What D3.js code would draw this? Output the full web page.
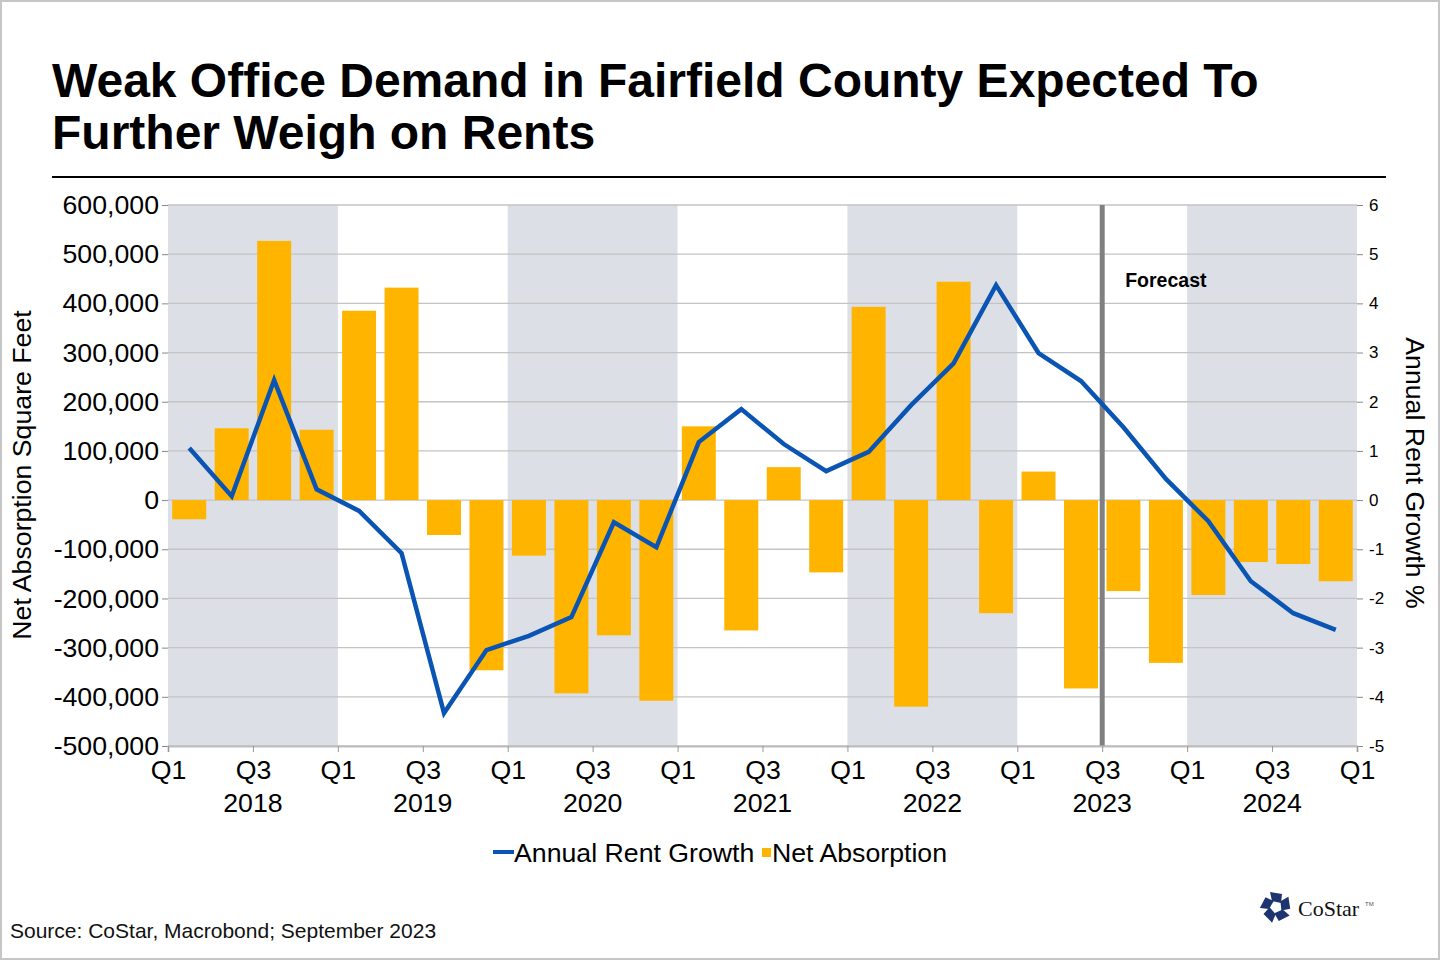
<!DOCTYPE html>
<html>
<head>
<meta charset="utf-8">
<script src="https://cdn.jsdelivr.net/npm/d3@7"></script>
<style>
  body { margin: 0; background: #fff; }
  svg { display: block; font-family: "Liberation Sans", Arial, sans-serif; }
</style>
</head>
<body>
<script>
// quarters Q1 2018 .. Q4 2024
var quarters = ["2018Q1","2018Q2","2018Q3","2018Q4","2019Q1","2019Q2","2019Q3","2019Q4",
  "2020Q1","2020Q2","2020Q3","2020Q4","2021Q1","2021Q2","2021Q3","2021Q4",
  "2022Q1","2022Q2","2022Q3","2022Q4","2023Q1","2023Q2","2023Q3","2023Q4",
  "2024Q1","2024Q2","2024Q3","2024Q4"];
var netAbsorption = [-39000, 146000, 527000, 143000, 385000, 432000, -71000, -346000,
  -113000, -393000, -275000, -408000, 150000, -265000, 67000, -147000,
  393000, -420000, 444000, -230000, 58000, -383000, -185000, -331000,
  -193000, -126000, -130000, -165000];
var rentGrowth = [1.06, 0.08, 2.44, 0.22, -0.22, -1.08, -4.33, -3.05,
  -2.76, -2.38, -0.45, -0.96, 1.18, 1.85, 1.14, 0.59,
  0.98, 1.93, 2.78, 4.37, 2.99, 2.42, 1.48, 0.43,
  -0.43, -1.65, -2.30, -2.64];
var years = ["2018","2019","2020","2021","2022","2023","2024"];
var shadedYears = ["2018","2020","2022","2024"];
var leftTicks = [600000, 500000, 400000, 300000, 200000, 100000, 0, -100000, -200000, -300000, -400000, -500000];
var rightTicks = [6, 5, 4, 3, 2, 1, 0, -1, -2, -3, -4, -5];
var forecastStart = "2023Q3";

var W = 1440, H = 960;
var pL = 168, pR = 1357, pT = 205, pB = 746;
var fs = 26.7;
var font = "\"Liberation Sans\", Arial, sans-serif";

var svg = d3.select("body").append("svg").attr("width", W).attr("height", H);

// outer frame
svg.append("rect").attr("x", 1).attr("y", 1).attr("width", W - 2).attr("height", H - 2)
  .attr("fill", "#fff").attr("stroke", "#c6c6c6").attr("stroke-width", 2);

// title
var title = svg.append("text").attr("font-size", 48).attr("font-weight", "bold").attr("fill", "#000");
title.append("tspan").attr("x", 52).attr("y", 97).text("Weak Office Demand in Fairfield County Expected To");
title.append("tspan").attr("x", 52).attr("y", 149).text("Further Weigh on Rents");
svg.append("line").attr("x1", 52).attr("x2", 1386).attr("y1", 177).attr("y2", 177)
  .attr("stroke", "#000").attr("stroke-width", 2);

// scales
var xBand = d3.scaleBand().domain(quarters).range([pL, pR]).paddingInner(0.2).paddingOuter(0.1);
var xq = d3.scaleLinear().domain([0, quarters.length]).range([pL, pR]);
var yL = d3.scaleLinear().domain([-500000, 600000]).range([pB, pT]);
var yR = d3.scaleLinear().domain([-5, 6]).range([pB, pT]);

// shaded years
svg.selectAll("rect.shade").data(shadedYears).enter().append("rect")
  .attr("class", "shade")
  .attr("x", function(d) { return xq(years.indexOf(d) * 4); })
  .attr("y", pT)
  .attr("width", xq(4) - xq(0))
  .attr("height", pB - pT)
  .attr("fill", "#dcdfe6");

// gridlines
svg.selectAll("line.grid").data(leftTicks).enter().append("line")
  .attr("class", "grid")
  .attr("x1", pL).attr("x2", pR)
  .attr("y1", function(d) { return yL(d); }).attr("y2", function(d) { return yL(d); })
  .attr("stroke", "#c4c4c4").attr("stroke-width", 1.3);

// bars
svg.selectAll("rect.bar").data(netAbsorption).enter().append("rect")
  .attr("class", "bar")
  .attr("x", function(d, i) { return xBand(quarters[i]); })
  .attr("y", function(d) { return yL(Math.max(0, d)); })
  .attr("width", xBand.bandwidth())
  .attr("height", function(d) { return Math.abs(yL(d) - yL(0)); })
  .attr("fill", "#ffb500");

// forecast divider
var fx = xq(quarters.indexOf(forecastStart));
svg.append("line").attr("x1", fx).attr("x2", fx).attr("y1", pT).attr("y2", pB)
  .attr("stroke", "#808080").attr("stroke-width", 5);
svg.append("text").attr("x", fx + 23).attr("y", 287).attr("font-size", 19.5).attr("font-weight", "bold")
  .text("Forecast");

// rent growth line
var line = d3.line()
  .x(function(d, i) { return xBand(quarters[i]) + xBand.bandwidth() / 2; })
  .y(function(d) { return yR(d); });
svg.append("path").datum(rentGrowth).attr("d", line)
  .attr("fill", "none").attr("stroke", "#0a55b3").attr("stroke-width", 4.5);

// left axis
var fmt = function(d) { return (d < 0 ? "-" : "") + d3.format(",")(Math.abs(d)); };
var gl = svg.append("g").attr("transform", "translate(" + pL + ",0)")
  .call(d3.axisLeft(yL).tickValues(leftTicks).tickFormat(fmt).tickSize(6).tickPadding(3));
gl.select(".domain").remove();
gl.selectAll("line").attr("stroke", "#888");
gl.selectAll("text").attr("font-size", fs).attr("fill", "#000").attr("font-family", font);

// right axis
var gr = svg.append("g").attr("transform", "translate(" + pR + ",0)")
  .call(d3.axisRight(yR).tickValues(rightTicks)
    .tickFormat(function(d) { return (d < 0 ? "-" : "") + Math.abs(d); })
    .tickSize(6).tickPadding(6));
gr.select(".domain").remove();
gr.selectAll("line").attr("stroke", "#888");
gr.selectAll("text").attr("font-size", 17).attr("fill", "#000").attr("font-family", font);

// bottom axis
var tickIdx = d3.range(0, quarters.length + 1, 2);
var gb = svg.append("g").attr("transform", "translate(0," + pB + ")")
  .call(d3.axisBottom(xq).tickValues(tickIdx)
    .tickFormat(function(d) { return (d % 4 === 0) ? "Q1" : "Q3"; })
    .tickSize(6).tickPadding(8));
gb.select(".domain").attr("stroke", "#bdbdbd").attr("stroke-width", 2);
gb.selectAll("line").attr("stroke", "#999");
gb.selectAll("text").attr("font-size", fs).attr("fill", "#000").attr("font-family", font);

svg.selectAll("text.year").data(years).enter().append("text")
  .attr("class", "year")
  .attr("x", function(d, i) { return xq(i * 4 + 2); })
  .attr("y", 812).attr("text-anchor", "middle").attr("font-size", fs)
  .text(function(d) { return d; });

// axis titles
svg.append("text").attr("transform", "translate(31,475) rotate(-90)")
  .attr("text-anchor", "middle").attr("font-size", fs).text("Net Absorption Square Feet");
svg.append("text").attr("transform", "translate(1406,473) rotate(90)")
  .attr("text-anchor", "middle").attr("font-size", fs).text("Annual Rent Growth %");

// legend
var lg = svg.append("g");
lg.append("rect").attr("x", 493).attr("y", 850).attr("width", 21).attr("height", 4).attr("fill", "#0a55b3");
lg.append("text").attr("x", 514).attr("y", 862).attr("font-size", fs).text("Annual Rent Growth");
lg.append("rect").attr("x", 762).attr("y", 848).attr("width", 9).attr("height", 9).attr("fill", "#ffb500");
lg.append("text").attr("x", 772).attr("y", 862).attr("font-size", fs).text("Net Absorption");

// source
svg.append("text").attr("x", 10).attr("y", 938).attr("font-size", 21).attr("fill", "#111")
  .text("Source: CoStar, Macrobond; September 2023");

// CoStar logo
var logo = svg.append("g").attr("transform", "translate(1276,907)");
d3.range(5).forEach(function(k) {
  logo.append("path")
    .attr("d", "M-6,-15 L6,-13 L5,-4 L-4,-6 Z")
    .attr("transform", "rotate(" + (k * 72) + ")")
    .attr("fill", "#1d3470");
});
svg.append("text").attr("x", 1298).attr("y", 916).attr("font-size", 22)
  .attr("font-family", "\"Liberation Serif\", \"DejaVu Serif\", serif").attr("fill", "#111").text("CoStar");
svg.append("text").attr("x", 1365).attr("y", 906).attr("font-size", 6).attr("fill", "#555").text("TM");
</script>
</body>
</html>
